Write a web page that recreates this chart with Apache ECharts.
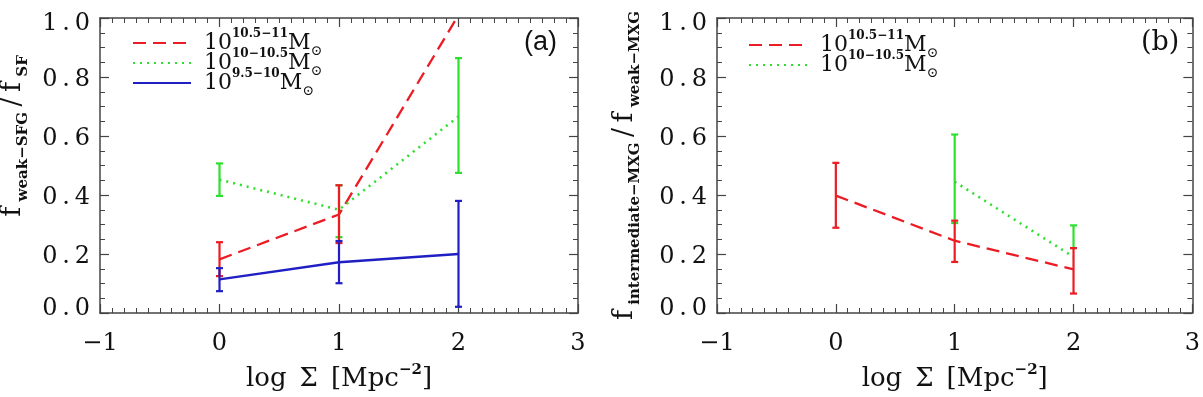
<!DOCTYPE html>
<html><head><meta charset="utf-8">
<script src="https://cdn.jsdelivr.net/npm/echarts@6/dist/echarts.min.js"></script>
<style>html,body{margin:0;padding:0;background:#fff}#c{width:1203px;height:397px}</style>
</head><body><div id="c"></div>
<script>
// ---- data ----
const xTickLabels = ['\u22121', '0', '1', '2', '3'];
const yTickLabels = ['0.0', '0.2', '0.4', '0.6', '0.8', '1.0'];
const xPos = [0, 1, 2];
// panel (a): f_weak-SFG / f_SF
const aRed = [0.182, 0.334, 1.01];
const aRedX = [0, 1];
const aRedLo = [0.125, 0.237];
const aRedHi = [0.240, 0.433];
const aGreen = [0.452, 0.350, 0.666];
const aGreenLo = [0.397, 0.257, 0.475];
const aGreenHi = [0.507, 0.433, 0.864];
const aBlue = [0.114, 0.172, 0.200];
const aBlueLo = [0.074, 0.101, 0.021];
const aBlueHi = [0.152, 0.244, 0.380];
// panel (b): f_intermediate-MXG / f_weak-MXG
const bRed = [0.398, 0.245, 0.148];
const bRedLo = [0.289, 0.173, 0.066];
const bRedHi = [0.509, 0.313, 0.220];
const bGreenX = [1, 2];
const bGreen = [0.445, 0.190];
const bGreenLo = [0.305, 0.220];
const bGreenHi = [0.605, 0.297];
// series names
const N_HI = '10^10.5\u221211 M\u2299';
const N_MID = '10^10\u221210.5 M\u2299';
const N_LO = '10^9.5\u221210 M\u2299';
const LEG = {};
LEG[N_HI] = '{n1|10}{sup|10.5\u221211}{n|M}{sub|\u2299}';
LEG[N_MID] = '{n1|10}{sup|10\u221210.5}{n|M}{sub|\u2299}';
LEG[N_LO] = '{n1|10}{sup|9.5\u221210}{n|M}{sub|\u2299}';

// ---- styles ----
const SERIF = 'DejaVu Serif';
const AX = '#444';
const RED = '#ec1c24', GREEN = '#2ee02e', BLUE = '#1f1fc4';
const TXT = '#111';
const TS = '\u2009';

const zip = (xs, ys) => xs.map((x, i) => [x, ys[i]]);
const zip3 = (xs, lo, hi) => xs.map((x, i) => [x, lo[i], hi[i]]);

function errBar(color) {
  return function (params, api) {
    const x = api.value(0), lo = api.value(1), hi = api.value(2);
    const a = api.coord([x, lo]), b = api.coord([x, hi]);
    const st = { stroke: color, lineWidth: 2.2 };
    return { type: 'group', children: [
      { type: 'line', shape: { x1: a[0], y1: a[1], x2: b[0], y2: b[1] }, style: st },
      { type: 'line', shape: { x1: a[0] - 3.5, y1: a[1], x2: a[0] + 3.5, y2: a[1] }, style: st },
      { type: 'line', shape: { x1: b[0] - 3.5, y1: b[1], x2: b[0] + 3.5, y2: b[1] }, style: st }
    ]};
  };
}

const tickCommon = {
  axisLine: { show: true, onZero: false, lineStyle: { color: AX, width: 1.5 } },
  axisTick: { show: true, inside: true, length: 9, lineStyle: { color: AX, width: 1.2 } },
  splitLine: { show: false }, minorSplitLine: { show: false }
};

const xNameRich = {
  n: { fontFamily: SERIF, fontSize: 26, lineHeight: 32, color: TXT },
  sup: { fontFamily: SERIF, fontSize: 15, fontWeight: 'bold', lineHeight: 14, verticalAlign: 'top', color: TXT }
};

function xAx(grid, pos, show) {
  return Object.assign({
    type: 'value', gridIndex: grid, position: pos, min: -1, max: 3, interval: 1,
    minorTick: { show: true, splitNumber: 10, length: 5, lineStyle: { color: AX, width: 1 } },
    axisLabel: { show: show, margin: 19, fontFamily: SERIF, fontSize: 24, color: TXT,
      formatter: v => xTickLabels[Math.round(v) + 1] },
    name: show ? '{n|log\u2002\u03A3\u2002[Mpc}{sup|\u22122}{n|]}' : '',
    nameLocation: 'middle', nameGap: 50,
    nameTextStyle: { rich: xNameRich }
  }, tickCommon);
}

const yNameRich = {
  f: { fontFamily: SERIF, fontSize: 27, lineHeight: 36, color: TXT },
  s: { fontFamily: SERIF, fontSize: 15, fontWeight: 'bold', lineHeight: 12, verticalAlign: 'bottom', color: TXT }
};
const Y_NAME_A = '{f|f' + TS + '}{s|weak\u2212SFG}{f|' + TS + '/' + TS + 'f' + TS + '}{s|SF}';
const Y_NAME_B = '{f|f' + TS + '}{s|intermediate\u2212MXG}{f|' + TS + '/' + TS + 'f' + TS + '}{s|weak\u2212MXG}';

const yLabBase = { fontFamily: SERIF, fontSize: 24, color: TXT, lineHeight: 24 };
const yLabRich = {
  lo: Object.assign({ padding: [0, 0, 9, 0] }, yLabBase),
  hi: Object.assign({ padding: [12, 0, 0, 0] }, yLabBase),
  md: Object.assign({ padding: [5, 0, 0, 0] }, yLabBase)
};
function yLabel(v) {
  const i = Math.round(v * 5);
  const s = yTickLabels[i].split('').join(TS);
  const k = i === 0 ? 'lo' : (i === 5 ? 'hi' : 'md');
  return '{' + k + '|' + s + '}';
}

function yAx(grid, pos, show, name, gap) {
  return Object.assign({
    type: 'value', gridIndex: grid, position: pos, min: 0, max: 1, interval: 0.2,
    minorTick: { show: true, splitNumber: 4, length: 5, lineStyle: { color: AX, width: 1 } },
    axisLabel: { show: show, margin: 10, fontFamily: SERIF, fontSize: 24, color: TXT,
      formatter: yLabel, rich: yLabRich },
    name: name, nameLocation: 'middle', nameGap: gap, nameRotate: 90,
    nameTextStyle: { rich: yNameRich }
  }, tickCommon);
}

const legRich = {
  n1: { fontFamily: SERIF, fontSize: 22, lineHeight: 30, padding: [0, 0, 0, 8], color: TXT },
  n: { fontFamily: SERIF, fontSize: 22, lineHeight: 30, color: TXT },
  sup: { fontFamily: SERIF, fontSize: 12, fontWeight: 'bold', lineHeight: 10, verticalAlign: 'top', color: TXT },
  sub: { fontFamily: SERIF, fontSize: 14, lineHeight: 10, verticalAlign: 'bottom', color: TXT }
};
function leg(name, left, top) {
  return { data: [name], left: left, top: top, orient: 'vertical', padding: 0,
    itemWidth: 58, itemHeight: 14, selectedMode: false,
    itemStyle: { opacity: 0 },
    formatter: n => LEG[n], textStyle: { rich: legRich } };
}

function lineSeries(name, xi, yi, data, color, type) {
  return { type: 'line', name: name, xAxisIndex: xi, yAxisIndex: yi, data: data,
    symbol: 'none', clip: true, silent: true, animation: false, z: 3,
    lineStyle: { color: color, width: type === 'dotted' ? 2.6 : 2.3, type: type === 'dashed' ? [13, 7] : (type === 'dotted' ? [2, 5] : 'solid') },
    itemStyle: { color: color } };
}
function errSeries(xi, yi, data, color, z) {
  return { type: 'custom', xAxisIndex: xi, yAxisIndex: yi, data: data, renderItem: errBar(color),
    clip: true, silent: true, animation: false, z: z };
}

const option = {
  backgroundColor: '#fff',
  animation: false,
  grid: [
    { left: 100, top: 11, width: 478, height: 303 },
    { left: 717, top: 11, width: 478, height: 303 }
  ],
  title: [
    { text: '(a)', left: 524, top: 29, padding: 0,
      textStyle: { fontFamily: 'Liberation Sans', fontSize: 27, fontWeight: 'normal', color: TXT } },
    { text: '(b)', left: 1141, top: 29, padding: 0,
      textStyle: { fontFamily: SERIF, fontSize: 27, fontWeight: 'normal', color: TXT } }
  ],
  graphic: [
    { type: 'text', x: 13, y: 136, rotation: Math.PI / 2, silent: true,
      style: { text: Y_NAME_A, rich: yNameRich, align: 'center', verticalAlign: 'middle', fill: TXT } }
  ],
  legend: [
    leg(N_HI, 132, 28), leg(N_MID, 132, 48), leg(N_LO, 132, 68),
    leg(N_HI, 748, 30), leg(N_MID, 748, 50)
  ],
  xAxis: [xAx(0, 'bottom', true), xAx(0, 'top', false), xAx(1, 'bottom', true), xAx(1, 'top', false)],
  yAxis: [
    yAx(0, 'left', true, '', 69), yAx(0, 'right', false, '', 0),
    yAx(1, 'left', true, Y_NAME_B, 74), yAx(1, 'right', false, '', 0)
  ],
  series: [
    errSeries(0, 0, zip3(xPos, aGreenLo, aGreenHi), GREEN, 4),
    errSeries(0, 0, zip3(aRedX, aRedLo, aRedHi), RED, 5),
    errSeries(0, 0, zip3(xPos, aBlueLo, aBlueHi), BLUE, 6),
    lineSeries(N_HI, 0, 0, zip(xPos, aRed), RED, 'dashed'),
    lineSeries(N_MID, 0, 0, zip(xPos, aGreen), GREEN, 'dotted'),
    lineSeries(N_LO, 0, 0, zip(xPos, aBlue), BLUE, 'solid'),
    errSeries(2, 2, zip3(bGreenX, bGreenLo, bGreenHi), GREEN, 4),
    errSeries(2, 2, zip3(xPos, bRedLo, bRedHi), RED, 5),
    lineSeries(N_HI, 2, 2, zip(xPos, bRed), RED, 'dashed'),
    lineSeries(N_MID, 2, 2, zip(bGreenX, bGreen), GREEN, 'dotted')
  ]
};
const chart = echarts.init(document.getElementById('c'), null, { renderer: 'canvas' });
chart.setOption(option);
</script>
</body></html>
